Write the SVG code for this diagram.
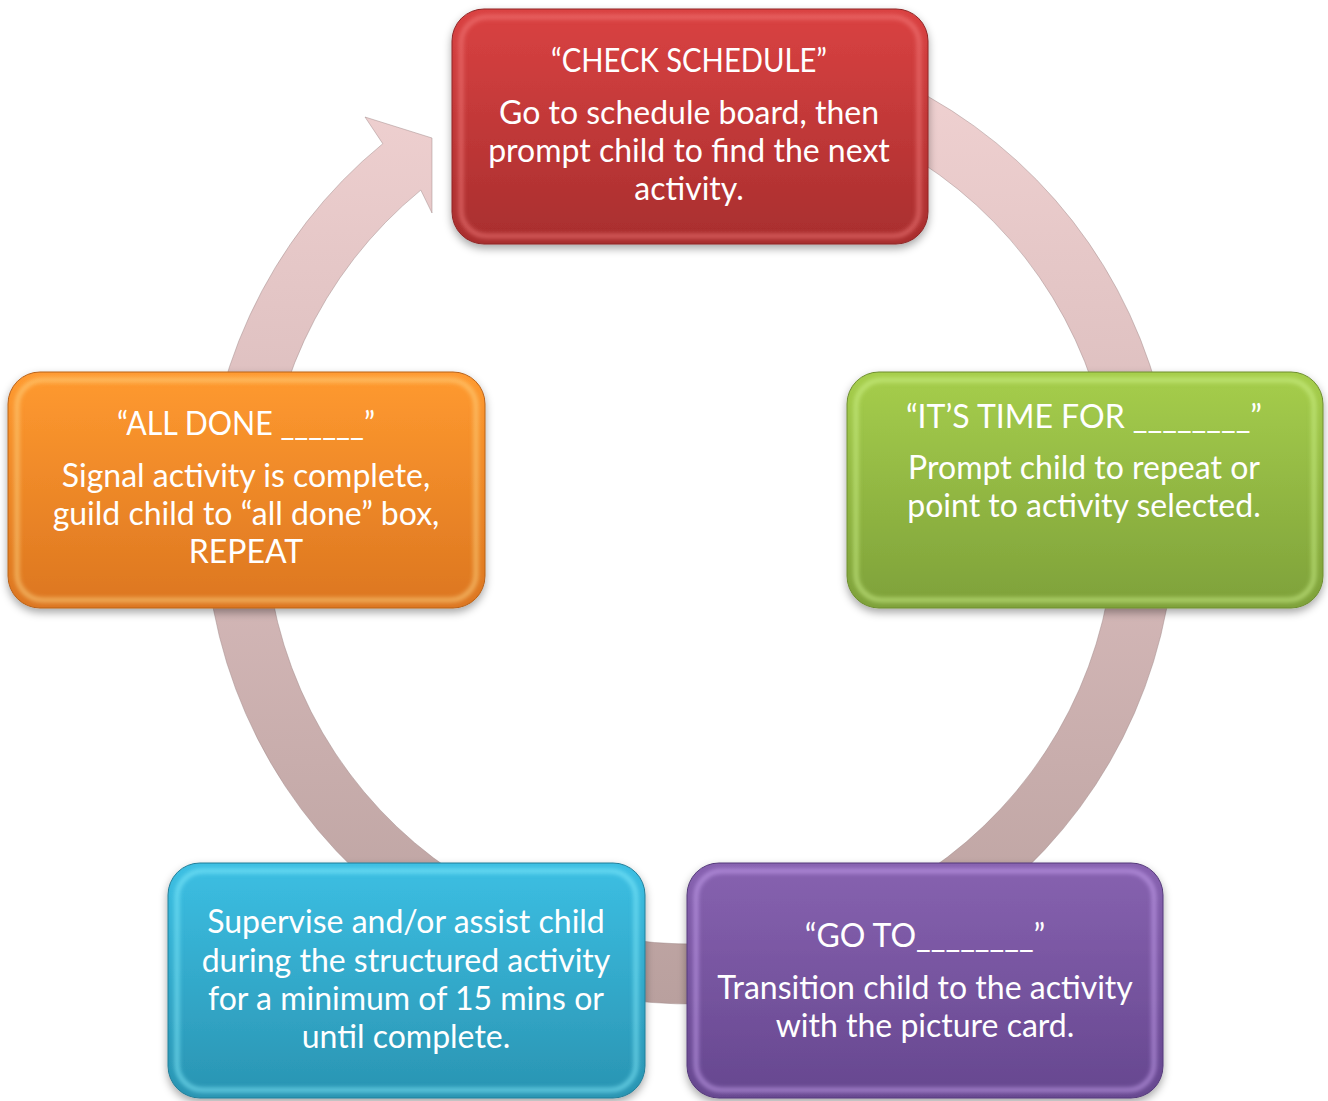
<svg xmlns="http://www.w3.org/2000/svg" width="1328" height="1101" viewBox="0 0 1328 1101">
<defs>
<style>
.t{font-family:Lato,"Noto Sans","Liberation Sans",sans-serif;font-size:32px;fill:#ffffff;text-anchor:middle}
.hl{fill:none;stroke-width:5;opacity:0.55}
</style>
<filter id="sh" x="-10%" y="-10%" width="120%" height="125%">
<feDropShadow dx="0" dy="4" stdDeviation="4" flood-color="#000" flood-opacity="0.35"/>
</filter>
<filter id="bl"><feGaussianBlur stdDeviation="2"/></filter>
<linearGradient id="ring" gradientUnits="userSpaceOnUse" x1="0" y1="34" x2="0" y2="1004">
<stop offset="0" stop-color="#F2D3D3"/>
<stop offset="0.5" stop-color="#D7BABA"/>
<stop offset="1" stop-color="#B9A09E"/>
</linearGradient>
<linearGradient id="gRed" x1="0" y1="0" x2="0" y2="1"><stop offset="0" stop-color="#DA4242"/><stop offset="1" stop-color="#A82E2E"/></linearGradient>
<linearGradient id="gGreen" x1="0" y1="0" x2="0" y2="1"><stop offset="0" stop-color="#A6CE4C"/><stop offset="1" stop-color="#7EA13A"/></linearGradient>
<linearGradient id="gOrange" x1="0" y1="0" x2="0" y2="1"><stop offset="0" stop-color="#FF9A30"/><stop offset="1" stop-color="#DC7620"/></linearGradient>
<linearGradient id="gCyan" x1="0" y1="0" x2="0" y2="1"><stop offset="0" stop-color="#3CBFE3"/><stop offset="1" stop-color="#2A94B2"/></linearGradient>
<linearGradient id="gPurple" x1="0" y1="0" x2="0" y2="1"><stop offset="0" stop-color="#8762B0"/><stop offset="1" stop-color="#66478F"/></linearGradient>
</defs>
<rect width="1328" height="1101" fill="#ffffff"/>
<g id="connectors">
<path d="M 774.2 41.4 A 485 485 0 1 1 382.8 143.7 L 365 117 L 432 138 L 432 213 L 420.8 190.1 A 425 425 0 1 0 763.8 100.5 Z" fill="url(#ring)" stroke="#9E8686" stroke-width="0.8" stroke-opacity="0.6"/>
</g>
<g id="node-check-schedule">
<rect x="452" y="9" width="476" height="235" rx="32" fill="url(#gRed)" stroke="#8E2626" stroke-width="1" filter="url(#sh)"/>
<rect x="461" y="17" width="458" height="219" rx="26" class="hl" stroke="#F58080" filter="url(#bl)"/>
<text class="t" x="689" y="72" textLength="276" lengthAdjust="spacingAndGlyphs">“CHECK SCHEDULE”</text>
<text class="t" x="689" y="124">Go to schedule board, then</text>
<text class="t" x="689" y="162">prompt child to find the next</text>
<text class="t" x="689" y="200">activity.</text>
</g>
<g id="node-its-time-for">
<rect x="847" y="372" width="476" height="236" rx="32" fill="url(#gGreen)" stroke="#6E8E30" stroke-width="1" filter="url(#sh)"/>
<rect x="856" y="380" width="458" height="220" rx="26" class="hl" stroke="#D2F590" filter="url(#bl)"/>
<text class="t" x="1084" y="428">“IT’S TIME FOR ________”</text>
<text class="t" x="1084" y="479">Prompt child to repeat or</text>
<text class="t" x="1084" y="517">point to activity selected.</text>
</g>
<g id="node-go-to">
<rect x="687" y="863" width="476" height="235" rx="32" fill="url(#gPurple)" stroke="#553A7A" stroke-width="1" filter="url(#sh)"/>
<rect x="696" y="871" width="458" height="219" rx="26" class="hl" stroke="#CDA8F5" filter="url(#bl)"/>
<text class="t" x="925" y="947">“GO TO________”</text>
<text class="t" x="925" y="999">Transition child to the activity</text>
<text class="t" x="925" y="1037">with the picture card.</text>
</g>
<g id="node-supervise">
<rect x="168" y="863" width="477" height="235" rx="32" fill="url(#gCyan)" stroke="#237E98" stroke-width="1" filter="url(#sh)"/>
<rect x="177" y="871" width="459" height="219" rx="26" class="hl" stroke="#8AF0FF" filter="url(#bl)"/>
<text class="t" x="406" y="933">Supervise and/or assist child</text>
<text class="t" x="406" y="972">during the structured activity</text>
<text class="t" x="406" y="1010">for a minimum of 15 mins or</text>
<text class="t" x="406" y="1048">until complete.</text>
</g>
<g id="node-all-done">
<rect x="8" y="372" width="477" height="236" rx="32" fill="url(#gOrange)" stroke="#B8621A" stroke-width="1" filter="url(#sh)"/>
<rect x="17" y="380" width="459" height="220" rx="26" class="hl" stroke="#FFD888" filter="url(#bl)"/>
<text class="t" x="246" y="435" textLength="258" lengthAdjust="spacingAndGlyphs">“ALL DONE ______”</text>
<text class="t" x="246" y="487">Signal activity is complete,</text>
<text class="t" x="246" y="525">guild child to “all done” box,</text>
<text class="t" x="246" y="563">REPEAT</text>
</g>
</svg>
